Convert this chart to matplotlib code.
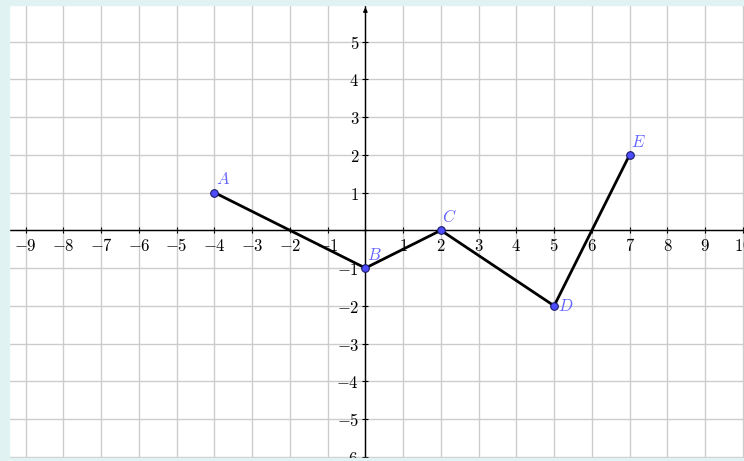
import matplotlib
matplotlib.use("Agg")
import matplotlib.pyplot as plt
from matplotlib.patches import Rectangle
from matplotlib.ticker import FuncFormatter

plt.rcParams['mathtext.fontset'] = 'cm'

# points of the polyline
names = ['A', 'B', 'C', 'D', 'E']
xs = [-4, 0, 2, 5, 7]
ys = [1, -1, 0, -2, 2]
# label offsets in points
offsets = [(1, 3), (1, 3), (1, 3), (3, 0), (1, 3)]

x_ticks = list(range(-9, 11))
y_ticks = list(range(-6, 6))

fig = plt.figure(figsize=(7.44, 4.61), dpi=100)
ax = fig.add_axes([0, 0, 1, 1])
ax.set_xlim(-9.68, 10.03)
ax.set_ylim(-6.11, 6.10)

ax.set_xticks(x_ticks)
ax.set_yticks(y_ticks)
ax.grid(True, color='#cccccc', linewidth=1.0, zorder=0)
ax.set_axisbelow(True)

for side in ['top', 'right']:
    ax.spines[side].set_visible(False)
ax.spines['left'].set_position(('data', 0))
ax.spines['bottom'].set_position(('data', 0))
ax.spines['left'].set_linewidth(1.0)
ax.spines['bottom'].set_linewidth(1.0)

def fmt(v, pos):
    if v == 0:
        return ''
    return r'$%d$' % v

ax.xaxis.set_major_formatter(FuncFormatter(fmt))
ax.yaxis.set_major_formatter(FuncFormatter(fmt))
ax.tick_params(direction='inout', length=5, width=0.8, labelsize=12, pad=2)

# arrow at top of y axis
ax.annotate('', xy=(0, 6.10 - 0.12), xytext=(0, 5.7),
            arrowprops=dict(arrowstyle='-|>', color='black', lw=1.0,
                            mutation_scale=6))

ax.plot(xs, ys, color='black', linewidth=2, zorder=3, solid_capstyle='round')
ax.scatter(xs, ys, s=30, color='#4d4dff', edgecolor='#1a1a66',
           linewidth=0.8, zorder=4)
for n, x, y, (dx, dy) in zip(names, xs, ys, offsets):
    ax.annotate(r'$%s$' % n, (x, y), xytext=(dx, dy), textcoords='offset points',
                color='#6666ff', fontsize=12, ha='left',
                va='bottom' if dy > 0 else 'center', zorder=5)

# light border strips
border = '#e0f2f2'
W, H = 744.0, 461.0
fig.add_artist(Rectangle((0, 0), 9 / W, 1, transform=fig.transFigure,
                         color=border, zorder=10))
fig.add_artist(Rectangle((0, 1 - 5 / H), 1, 5 / H, transform=fig.transFigure,
                         color=border, zorder=10))
fig.add_artist(Rectangle((0, 0), 1, 3 / H, transform=fig.transFigure,
                         color=border, zorder=10))

fig.savefig('out.png', dpi=100)
